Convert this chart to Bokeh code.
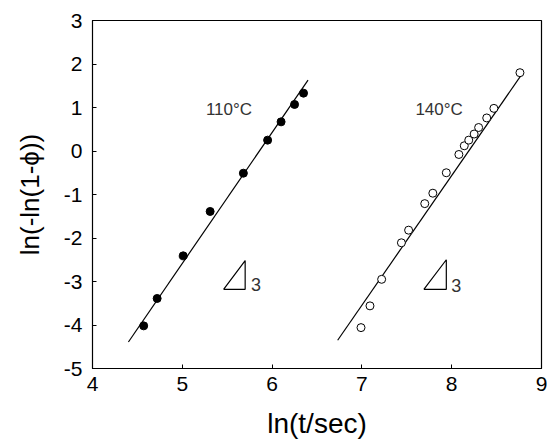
from bokeh.plotting import figure
from bokeh.models import FixedTicker, Range1d
from bokeh.core.properties import value
from bokeh.embed import file_html
from bokeh.resources import INLINE

# ---- data ----
x110 = [4.57, 4.72, 5.01, 5.31, 5.68, 5.95, 6.10, 6.25, 6.35]
y110 = [-4.02, -3.39, -2.41, -1.39, -0.51, 0.25, 0.67, 1.07, 1.33]

x140 = [6.99, 7.09, 7.22, 7.44, 7.52, 7.70, 7.79, 7.94, 8.08, 8.14, 8.19, 8.25, 8.30, 8.39, 8.47, 8.76]
y140 = [-4.06, -3.56, -2.95, -2.11, -1.82, -1.21, -0.97, -0.50, -0.08, 0.12, 0.25, 0.39, 0.54, 0.76, 0.98, 1.80]

fit110_x = [4.40, 6.40]
fit110_y = [-4.39, 1.63]
fit140_x = [6.73, 8.78]
fit140_y = [-4.35, 1.76]

labels = ["110°C", "140°C"]
label_x = [5.52, 7.86]
label_y = [0.95, 0.95]

# slope triangles (x_left, x_right, y_bottom, y_top) and their "3" labels
tri110 = [5.46, 5.70, -3.18, -2.52]
tri140 = [7.69, 7.94, -3.18, -2.50]
slope_text = ["3", "3"]
slope_x = [5.82, 8.05]
slope_y = [-3.08, -3.10]

x_ticks = [4, 5, 6, 7, 8, 9]
y_ticks = [-5, -4, -3, -2, -1, 0, 1, 2, 3]
y_tick_labels = ["-5", "-4", "-3", "-2", "-1", "0", "1", "2", "3"]

FONT = "Liberation Sans"

p = figure(width=547, height=446, output_backend="svg", toolbar_location=None,
           x_range=Range1d(4, 9), y_range=Range1d(-5, 3),
           min_border_left=92, min_border_right=6, min_border_top=20, min_border_bottom=78)
p.grid.visible = False
p.outline_line_color = "black"
p.outline_line_width = 1.2
p.background_fill_color = "white"
p.border_fill_color = "white"

for ax in (p.xaxis, p.yaxis):
    ax.axis_line_color = "black"
    ax.major_tick_in = 4
    ax.major_tick_out = 0
    ax.minor_tick_line_color = None
    ax.major_label_text_font = FONT
    ax.major_label_text_font_size = "21px"
    ax.major_label_text_color = "black"
    ax.axis_label_text_font = FONT
    ax.axis_label_text_font_style = "normal"
    ax.axis_label_text_color = "black"

p.xaxis.axis_label_text_font_size = "28px"
p.yaxis.axis_label_text_font_size = "26px"
p.xaxis.ticker = FixedTicker(ticks=x_ticks)
p.yaxis.ticker = FixedTicker(ticks=y_ticks)
p.yaxis.major_label_overrides = {t: s for t, s in zip(y_ticks, y_tick_labels)}
p.xaxis.axis_label = "ln(t/sec)"
p.yaxis.axis_label = "ln(-ln(1-ϕ))"
p.xaxis.major_label_standoff = 8
p.yaxis.major_label_standoff = 10
p.xaxis.axis_label_standoff = 14
p.yaxis.axis_label_standoff = 16

# fit lines
p.line(fit110_x, fit110_y, line_color="black", line_width=1.2)
p.line(fit140_x, fit140_y, line_color="black", line_width=1.2)

# data points
p.scatter(x110, y110, size=8, marker="circle", fill_color="black", line_color="black")
p.scatter(x140, y140, size=8, marker="circle", fill_color="white", line_color="black", line_width=1)

# temperature labels
p.text(label_x, label_y, text=labels, text_font=value(FONT), text_font_size="17px",
       text_color="#333333", text_align="center", text_baseline="middle")

# slope triangles
for t in (tri110, tri140):
    p.line([t[0], t[1], t[1], t[0]], [t[2], t[2], t[3], t[2]], line_color="black", line_width=1.2)
p.text(slope_x, slope_y, text=slope_text, text_font=value(FONT), text_font_size="18px",
       text_color="#333333", text_align="center", text_baseline="middle")

open("out.html", "w").write(file_html(p, INLINE))
